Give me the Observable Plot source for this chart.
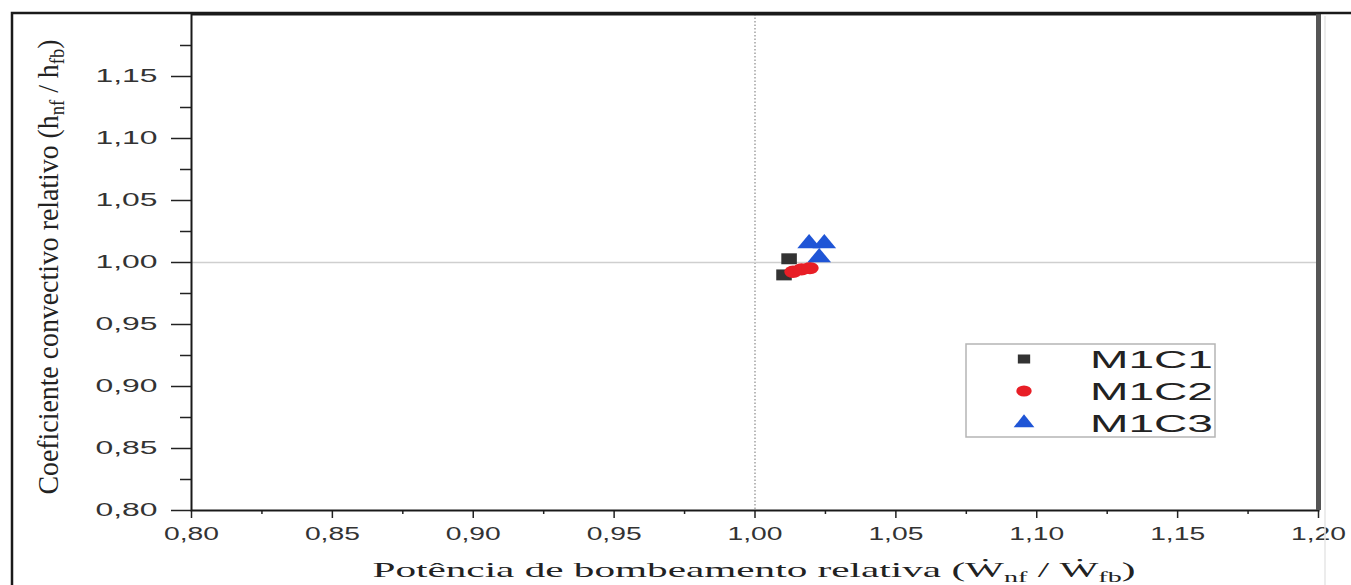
<!DOCTYPE html>
<html>
<head>
<meta charset="utf-8">
<script src="https://cdn.jsdelivr.net/npm/d3@7"></script>
<script src="https://cdn.jsdelivr.net/npm/@observablehq/plot@0.6"></script>
<style>
  html, body { margin: 0; padding: 0; background: #fff; }
  #chart { width: 1351px; height: 585px; overflow: hidden; }
</style>
</head>
<body>
<div id="chart"></div>
<script>
// ---- data ----
const seriesNames = ["M1C1", "M1C2", "M1C3"];
const m1c1X = [1.0121, 1.0103];
const m1c1Y = [1.0030, 0.9900];
const m1c2X = [1.0135, 1.0165, 1.0195];
const m1c2Y = [0.9925, 0.9945, 0.9955];
const m1c3X = [1.0192, 1.0246, 1.0228];
const m1c3Y = [1.0153, 1.0153, 1.0040];
const xTicks = [0.80, 0.85, 0.90, 0.95, 1.00, 1.05, 1.10, 1.15, 1.20];
const xMinorTicks = [0.825, 0.875, 0.925, 0.975, 1.025, 1.075, 1.125, 1.175];
const yTicks = [0.80, 0.85, 0.90, 0.95, 1.00, 1.05, 1.10, 1.15];
const yMinorTicks = [0.825, 0.875, 0.925, 0.975, 1.025, 1.075, 1.125, 1.175];
const xTitle = "Potência de bombeamento relativa";
const yTitle = "Coeficiente convectivo relativo";

const colors = {M1C1: "#333333", M1C2: "#e81e26", M1C3: "#1f55d6"};
const symbols = {M1C1: "square", M1C2: "circle", M1C3: "triangle"};

const data = [];
[[m1c1X, m1c1Y], [m1c2X, m1c2Y], [m1c3X, m1c3Y]].forEach(([xs, ys], i) => {
  xs.forEach((x, j) => data.push({series: seriesNames[i], x, y: ys[j]}));
});

const fmt = d => d3.format(".2f")(d).replace(".", ",");

const plot = Plot.plot({
  width: 1351,
  height: 585,
  marginLeft: 191,
  marginRight: 33,
  marginTop: 14,
  marginBottom: 75,
  style: {fontFamily: "'Liberation Sans', Arial, sans-serif", fontSize: "18px", background: "white", overflow: "visible"},
  x: {domain: [0.8, 1.2], label: null},
  y: {domain: [0.8, 1.2], label: null},
  marks: [
    Plot.ruleX([1], {stroke: "#8a8a8a", strokeWidth: 1.2, strokeDasharray: "1.5,2"}),
    Plot.ruleY([1], {stroke: "#cfcfcf", strokeWidth: 1.5}),
    Plot.axisX(xMinorTicks, {tickSize: 4, text: null, stroke: "#222", strokeWidth: 1.5, label: null}),
    Plot.axisX(xTicks, {tickSize: 8, tickPadding: 9, tickFormat: fmt, fill: "#333", stroke: "#222", strokeWidth: 1.5, label: null, fontSize: 18}),
    Plot.axisY(yMinorTicks, {tickSize: 11, text: null, stroke: "#222", strokeWidth: 1.5, label: null}),
    Plot.axisY(yTicks, {tickSize: 20, tickPadding: 14, tickFormat: fmt, fill: "#333", stroke: "#222", strokeWidth: 1.5, label: null, fontSize: 18}),
    Plot.frame({stroke: "#1a1a1a", strokeWidth: 2}),
    Plot.ruleX([1.2], {stroke: "#555", strokeWidth: 5}),
    Plot.dot(data, {
      x: "x", y: "y",
      symbol: d => symbols[d.series],
      fill: d => colors[d.series],
      r: 6.5
    })
  ]
});
document.getElementById("chart").appendChild(plot);

const svg = d3.select(plot);

// widen the dot glyphs like the horizontally stretched reference
svg.selectAll('[aria-label="dot"] path').each(function () {
  const t = this.getAttribute("transform") || "";
  this.setAttribute("transform", t + " scale(1.35,0.95)");
});

// stretch tick labels to match the wide look of the reference
svg.selectAll('[aria-label="x-axis tick label"] text').attr("textLength", 55).attr("lengthAdjust", "spacingAndGlyphs");
svg.selectAll('[aria-label="y-axis tick label"] text').attr("textLength", 62).attr("lengthAdjust", "spacingAndGlyphs");

// outer figure border
svg.append("path").attr("d", "M12,585V13H1351").attr("fill", "none").attr("stroke", "#1a1a1a").attr("stroke-width", 2.5);
svg.append("line").attr("x1", 1325).attr("x2", 1325).attr("y1", 16).attr("y2", 585).attr("stroke", "#e6e6e6").attr("stroke-width", 1.5);

// x title
const xt = svg.append("text")
  .attr("x", 754).attr("y", 577)
  .attr("text-anchor", "middle")
  .attr("font-family", "'Liberation Serif', 'DejaVu Serif', serif")
  .attr("font-size", 22).attr("fill", "#222")
  .attr("textLength", 763).attr("lengthAdjust", "spacingAndGlyphs");
xt.append("tspan").text(xTitle + " (\u1E86");
xt.append("tspan").attr("font-size", 15).attr("dy", 5).text("nf");
xt.append("tspan").attr("dy", -5).text(" / \u1E86");
xt.append("tspan").attr("font-size", 15).attr("dy", 5).text("fb");
xt.append("tspan").attr("dy", -5).text(")");

// y title
const yt = svg.append("text")
  .attr("transform", "translate(58,267) rotate(-90) scale(1,1.45)")
  .attr("text-anchor", "middle")
  .attr("font-family", "'Liberation Serif', 'DejaVu Serif', serif")
  .attr("font-size", 21).attr("fill", "#222")
  .attr("textLength", 455).attr("lengthAdjust", "spacingAndGlyphs");
yt.append("tspan").text(yTitle + " (h");
yt.append("tspan").attr("font-size", 14).attr("dy", 4).text("nf");
yt.append("tspan").attr("dy", -4).text(" / h");
yt.append("tspan").attr("font-size", 14).attr("dy", 4).text("fb");
yt.append("tspan").attr("dy", -4).text(")");

// legend
const lg = svg.append("g").attr("aria-label", "legend");
lg.append("rect").attr("x", 966).attr("y", 344).attr("width", 249).attr("height", 93)
  .attr("fill", "white").attr("stroke", "#b5b5b5").attr("stroke-width", 1.5);
const rowsY = [359, 391, 423];
seriesNames.forEach((s, i) => {
  const y = rowsY[i];
  const sym = d3.symbol().type(
    symbols[s] === "square" ? d3.symbolSquare : symbols[s] === "circle" ? d3.symbolCircle : d3.symbolTriangle
  ).size(symbols[s] === "square" ? 90 : 110);
  lg.append("path").attr("d", sym()).attr("fill", colors[s])
    .attr("transform", `translate(1024,${y}) scale(1.3,0.95)`);
  lg.append("text").attr("x", 1090).attr("y", y + 9)
    .attr("text-anchor", "start")
    .attr("font-family", "'Liberation Sans', Arial, sans-serif")
    .attr("font-size", 24).attr("fill", "#222")
    .attr("textLength", 123).attr("lengthAdjust", "spacingAndGlyphs")
    .text(s);
});
</script>
</body>
</html>
